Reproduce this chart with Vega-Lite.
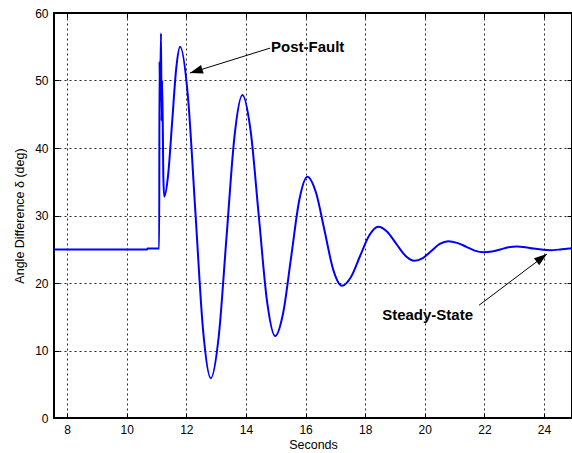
{
  "$schema": "https://vega.github.io/schema/vega-lite/v6.json",
  "width": 518,
  "height": 405,
  "autosize": "none",
  "padding": {"left": 54, "top": 13, "right": 0, "bottom": 35},
  "background": "white",
  "config": {
    "view": {"stroke": "black", "strokeWidth": 2},
    "axis": {
      "labelFont": "Liberation Sans",
      "labelFontSize": 12,
      "labelColor": "black",
      "titleFont": "Liberation Sans",
      "titleFontSize": 12.5,
      "titleFontWeight": "normal",
      "titleColor": "black",
      "domain": false,
      "tickColor": "black",
      "tickSize": -5,
      "tickWidth": 1,
      "gridColor": "black",
      "gridDash": [2, 3],
      "gridOpacity": 0.85,
      "gridWidth": 1
    }
  },
  "datasets": {
    "curve": [
      {"t": 7.56, "v": 24.95}, {"t": 10.68, "v": 24.95}, {"t": 10.70, "v": 25.1}, {"t": 11.09, "v": 25.1},
      {"t": 11.10, "v": 52.8}, {"t": 11.12, "v": 47}, {"t": 11.15, "v": 57.0}, {"t": 11.17, "v": 44},
      {"t": 11.19, "v": 50}, {"t": 11.23, "v": 35.5}, {"t": 11.26, "v": 32.8}, {"t": 11.39, "v": 36.05},
      {"t": 11.525, "v": 43.9}, {"t": 11.66, "v": 51.75}, {"t": 11.79, "v": 55.0}, {"t": 12.05, "v": 47.8},
      {"t": 12.305, "v": 30.45}, {"t": 12.56, "v": 13.1}, {"t": 12.82, "v": 5.9}, {"t": 13.085, "v": 12.0},
      {"t": 13.35, "v": 26.9}, {"t": 13.615, "v": 41.7}, {"t": 13.88, "v": 47.85}, {"t": 14.155, "v": 42.6},
      {"t": 14.43, "v": 30.0}, {"t": 14.705, "v": 17.4}, {"t": 14.98, "v": 12.15}, {"t": 15.25, "v": 15.6},
      {"t": 15.52, "v": 23.95}, {"t": 15.79, "v": 32.3}, {"t": 16.06, "v": 35.75}, {"t": 16.35, "v": 33.4},
      {"t": 16.64, "v": 27.7}, {"t": 16.93, "v": 21.95}, {"t": 17.22, "v": 19.6}, {"t": 17.525, "v": 20.9},
      {"t": 17.83, "v": 24.0}, {"t": 18.135, "v": 27.05}, {"t": 18.44, "v": 28.35}, {"t": 18.74, "v": 27.6},
      {"t": 19.045, "v": 25.8}, {"t": 19.35, "v": 24.05}, {"t": 19.65, "v": 23.3}, {"t": 19.935, "v": 23.7},
      {"t": 20.22, "v": 24.75}, {"t": 20.505, "v": 25.8}, {"t": 20.79, "v": 26.2}, {"t": 21.085, "v": 25.95},
      {"t": 21.38, "v": 25.4}, {"t": 21.675, "v": 24.8}, {"t": 21.97, "v": 24.55}, {"t": 22.25, "v": 24.65},
      {"t": 22.53, "v": 24.95}, {"t": 22.81, "v": 25.3}, {"t": 23.09, "v": 25.4}, {"t": 23.37, "v": 25.3},
      {"t": 23.645, "v": 25.1}, {"t": 23.92, "v": 24.95}, {"t": 24.2, "v": 24.85}, {"t": 24.6, "v": 25.0},
      {"t": 24.94, "v": 25.15}
    ],
    "arrows": [
      {"name": "Post-Fault", "x0": 14.81, "y0": 54.8, "x1": 12.12, "y1": 51.1},
      {"name": "Steady-State", "x0": 21.82, "y0": 16.7, "x1": 24.10, "y1": 24.3}
    ],
    "labels": [
      {"name": "Post-Fault", "x": 14.84, "y": 54.2},
      {"name": "Steady-State", "x": 18.57, "y": 14.5}
    ]
  },
  "layer": [
    {
      "data": {"name": "curve"},
      "mark": {"type": "line", "interpolate": "monotone", "color": "#0000ff", "strokeWidth": 2},
      "encoding": {
        "x": {"field": "t", "type": "quantitative",
          "scale": {"domain": [7.56, 24.94], "nice": false, "zero": false},
          "axis": {"orient": "bottom", "values": [8, 10, 12, 14, 16, 18, 20, 22, 24], "title": "Seconds", "labelPadding": 11, "titlePadding": 3, "grid": true}},
        "y": {"field": "v", "type": "quantitative",
          "scale": {"domain": [0, 60], "nice": false, "zero": false},
          "axis": {"orient": "left", "values": [0, 10, 20, 30, 40, 50, 60], "title": "Angle Difference δ (deg)", "labelPadding": 11, "titlePadding": 8, "grid": true}}
      }
    },
    {
      "data": {"name": "arrows"},
      "mark": {"type": "rule", "color": "black", "strokeWidth": 1},
      "encoding": {
        "x": {"field": "x0", "type": "quantitative",
          "scale": {"domain": [7.56, 24.94], "nice": false, "zero": false},
          "axis": {"orient": "top", "values": [8, 10, 12, 14, 16, 18, 20, 22, 24], "labels": false, "grid": false, "title": null}},
        "y": {"field": "y0", "type": "quantitative",
          "scale": {"domain": [0, 60], "nice": false, "zero": false},
          "axis": {"orient": "right", "values": [0, 10, 20, 30, 40, 50, 60], "labels": false, "grid": false, "title": null}},
        "x2": {"field": "x1"},
        "y2": {"field": "y1"}
      }
    },
    {
      "data": {"name": "arrows"},
      "transform": [{"filter": "datum.name === 'Post-Fault'"}],
      "mark": {"type": "point", "shape": "M0,0L-0.34,1L0.34,1Z", "filled": true, "color": "black", "opacity": 1, "size": 676, "angle": 253},
      "encoding": {
        "x": {"field": "x1", "type": "quantitative", "scale": {"domain": [7.56, 24.94], "nice": false, "zero": false}, "axis": null},
        "y": {"field": "y1", "type": "quantitative", "scale": {"domain": [0, 60], "nice": false, "zero": false}, "axis": null}
      }
    },
    {
      "data": {"name": "arrows"},
      "transform": [{"filter": "datum.name === 'Steady-State'"}],
      "mark": {"type": "point", "shape": "M0,0L-0.34,1L0.34,1Z", "filled": true, "color": "black", "opacity": 1, "size": 676, "angle": 53},
      "encoding": {
        "x": {"field": "x1", "type": "quantitative", "scale": {"domain": [7.56, 24.94], "nice": false, "zero": false}, "axis": null},
        "y": {"field": "y1", "type": "quantitative", "scale": {"domain": [0, 60], "nice": false, "zero": false}, "axis": null}
      }
    },
    {
      "data": {"name": "labels"},
      "mark": {"type": "text", "font": "Liberation Sans", "fontSize": 15, "fontWeight": "bold", "align": "left", "baseline": "alphabetic", "color": "black"},
      "encoding": {
        "x": {"field": "x", "type": "quantitative", "scale": {"domain": [7.56, 24.94], "nice": false, "zero": false}, "axis": null},
        "y": {"field": "y", "type": "quantitative", "scale": {"domain": [0, 60], "nice": false, "zero": false}, "axis": null},
        "text": {"field": "name"}
      }
    }
  ],
  "resolve": {"axis": {"x": "independent", "y": "independent"}}
}
